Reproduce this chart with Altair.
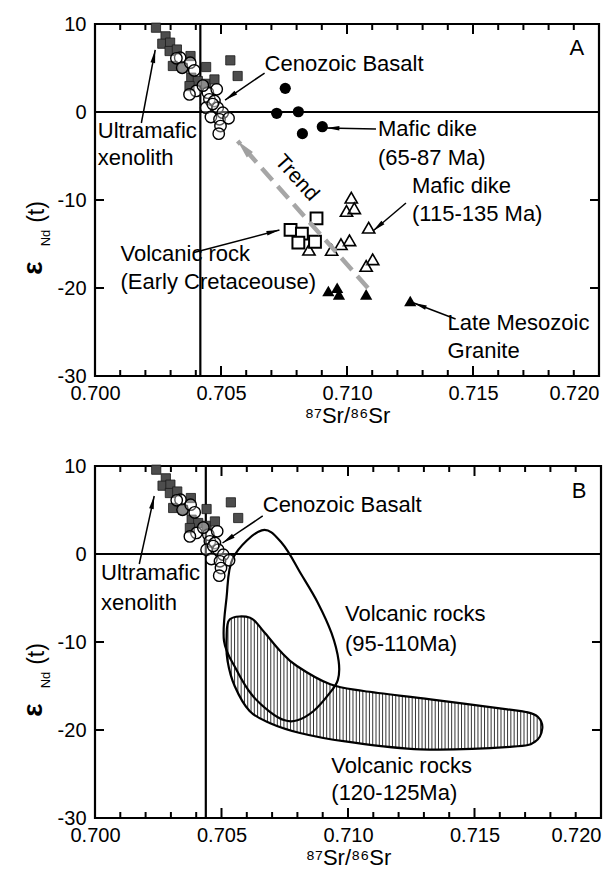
import altair as alt
import pandas as pd
import numpy as np

FONT = "Liberation Sans"

# ---------------- data ----------------
# Ultramafic xenolith (grey squares)
ux_sr = [0.70242, 0.70280, 0.70267, 0.70298, 0.70296, 0.70325, 0.70379, 0.70309,
         0.70348, 0.70441, 0.70382, 0.70408, 0.70441, 0.70474, 0.70375, 0.70537, 0.70566]
ux_nd = [9.58, 8.60, 7.76, 7.88, 6.93, 7.10, 6.36, 5.23,
         5.03, 5.11, 3.90, 3.52, 3.20, 3.70, 2.95, 5.87, 4.09]
# Cenozoic basalt (open circles)
cb_sr = [0.70338, 0.70323, 0.70346, 0.70378, 0.70394, 0.70401, 0.70375, 0.70448,
         0.70483, 0.70454, 0.70474, 0.70441, 0.70487, 0.70507, 0.70460, 0.70494,
         0.70530, 0.70498, 0.70491, 0.70428, 0.70467]
cb_nd = [6.17, 6.10, 5.03, 5.60, 4.73, 2.39, 2.00, 2.20,
         2.58, 1.44, 1.25, 0.49, 0.49, -0.08, -0.57, -0.83,
         -0.72, -1.60, -2.46, 3.00, 0.90]
# Mafic dike 65-87 Ma (black circles)
md1_sr = [0.70755, 0.70721, 0.70807, 0.70823, 0.70902]
md1_nd = [2.69, -0.15, 0.03, -2.46, -1.67]
# Mafic dike 115-135 Ma (open triangles)
md2_sr = [0.71017, 0.70998, 0.71029, 0.71086, 0.71010, 0.70976, 0.70939, 0.70849, 0.71102, 0.71076]
md2_nd = [-9.74, -11.25, -10.94, -13.15, -14.58, -15.03, -15.68, -15.65, -16.74, -17.50]
# Volcanic rock, Early Cretaceous (open squares)
vr_sr = [0.70879, 0.70776, 0.70821, 0.70807, 0.70873]
vr_nd = [-12.08, -13.40, -13.83, -14.85, -14.74]
# Late Mesozoic granite (black triangles)
gr_sr = [0.70926, 0.70961, 0.70968, 0.71076, 0.71251]
gr_nd = [-20.34, -19.97, -20.72, -20.72, -21.48]

# Panel B fields: volcanic rocks 95-110 Ma (open outline)
v1_sr = [0.70659, 0.70740, 0.70815, 0.70880, 0.70935, 0.70963, 0.70960, 0.70925,
         0.70864, 0.70800, 0.70750, 0.70690, 0.70620, 0.70560, 0.70510, 0.70520, 0.70546]
v1_nd = [2.69, 1.20, -2.30, -5.50, -9.00, -12.16, -14.30, -15.90,
         -17.84, -18.90, -18.90, -17.90, -16.00, -13.20, -9.89, -4.97, -0.42]
# volcanic rocks 120-125 Ma (hatched outline)
v2_sr = [0.70533, 0.70613, 0.70665, 0.70732, 0.70798, 0.70930, 0.71062, 0.71326,
         0.71630, 0.71703, 0.71750, 0.71768, 0.71740, 0.71650, 0.71286, 0.70989, 0.70810,
         0.70690, 0.70611, 0.70552, 0.70524, 0.70520]
v2_nd = [-7.42, -7.24, -8.75, -11.02, -12.73, -14.81, -15.57, -16.51,
         -17.65, -17.95, -18.50, -19.80, -21.30, -21.90, -22.20, -21.30, -20.34,
         -19.20, -17.84, -15.00, -12.16, -9.60]

x_major = [0.700, 0.705, 0.710, 0.715, 0.720]
x_minor = [round(0.700 + 0.001 * i, 3) for i in range(1, 20) if i % 5]
y_major = [-30, -20, -10, 0, 10]

XDOM = [0.700, 0.720]
YDOM = [-30, 10]


def pts(sr, nd):
    return pd.DataFrame({"x": sr, "y": nd})


def xenc():
    ax = alt.Axis(values=x_major, format=".3f", ticks=False, domain=False, grid=False,
                  labelFlush=False, labelOverlap=False,
                  labelAlign={"expr": "datum.value > 0.7195 ? 'right' : 'center'"},
                  labelFontSize=20, labelFont=FONT, labelPadding=7, labelColor="black",
                  title="⁸⁷Sr/⁸⁶Sr", titleFont=FONT, titleFontSize=22,
                  titleFontWeight="normal", titlePadding=2, titleColor="black")
    return alt.X("x:Q", scale=alt.Scale(domain=XDOM, nice=False, zero=False), axis=ax)


def yenc():
    ax = alt.Axis(values=y_major, labelExpr="datum.value + ''", ticks=False, domain=False,
                  grid=False, labelFlush=False, labelOverlap=False,
                  labelFontSize=20, labelFont=FONT, labelPadding=9,
                  labelColor="black", title=None)
    return alt.Y("y:Q", scale=alt.Scale(domain=YDOM, nice=False, zero=False), axis=ax)


def tick_frame(W, H):
    """Inward ticks on all four sides, as segments in data units."""
    sx = W / (XDOM[1] - XDOM[0])
    sy = H / (YDOM[1] - YDOM[0])
    seg = []
    for vals, ln in ((x_major[1:-1], 10), (x_minor, 6)):
        for v in vals:
            seg.append((v, YDOM[0], v, YDOM[0] + ln / sy))
            seg.append((v, YDOM[1], v, YDOM[1] - ln / sy))
    for v in (-20, -10):
        seg.append((XDOM[0], v, XDOM[0] + 9 / sx, v))
        seg.append((XDOM[1], v, XDOM[1] - 9 / sx, v))
    df = pd.DataFrame(seg, columns=["x", "y", "x2", "y2"])
    return [alt.Chart(df).mark_rule(color="black", strokeWidth=2).encode(
        x="x:Q", y="y:Q", x2="x2:Q", y2="y2:Q")]


def ref_lines(xv):
    return [
        alt.Chart(pd.DataFrame({"y": [0]})).mark_rule(color="black", strokeWidth=2.2).encode(y="y:Q"),
        alt.Chart(pd.DataFrame({"x": [xv]})).mark_rule(color="black", strokeWidth=2.2).encode(x="x:Q"),
    ]


def common_points():
    sq = alt.Chart(pts(ux_sr, ux_nd)).mark_point(shape="square", filled=True, size=85,
                                                 fill="#4d4d4d", stroke="#1a1a1a",
                                                 strokeWidth=0.8, opacity=1).encode(x="x:Q", y="y:Q")
    ci = alt.Chart(pts(cb_sr, cb_nd)).mark_point(shape="circle", size=130, fill="white",
                                                 fillOpacity=0.35, stroke="black",
                                                 strokeWidth=1.4, opacity=1).encode(x="x:Q", y="y:Q")
    return [sq, ci]


ARROW = "M0,0L0.36,2L-0.36,2Z"


def with_angle(df, W, H):
    sx = W / (XDOM[1] - XDOM[0])
    sy = H / (YDOM[1] - YDOM[0])
    ang = []
    for _, r in df.iterrows():
        dx = (r.x2 - r.x) * sx
        dy = -(r.y2 - r.y) * sy
        ang.append((np.degrees(np.arctan2(dx, -dy)) + 360) % 360)
    d = df.copy()
    d["ang"] = ang
    return d


def arrows(df, W, H, color="black", size=170):
    d = with_angle(df, W, H)
    line = alt.Chart(d).mark_rule(color=color, strokeWidth=1.5).encode(
        x="x:Q", y="y:Q", x2="x2:Q", y2="y2:Q")
    head = alt.Chart(d).mark_point(shape=ARROW, filled=True, size=size, fill=color,
                                   strokeWidth=0, opacity=1).encode(
        x=alt.X("x2:Q"), y=alt.Y("y2:Q"), angle=alt.Angle("ang:Q", scale=None))
    return [line, head]


def texts(df, size=22, align="left"):
    return alt.Chart(df).mark_text(font=FONT, fontSize=size, align=align, baseline="middle",
                                   color="black").encode(x="x:Q", y="y:Q", text="t:N")


def ytitle():
    return [
        alt.Chart(pd.DataFrame({"t": ["ε"]})).mark_text(font=FONT, fontSize=28, fontWeight="bold",
                                                        angle=270, align="center",
                                                        baseline="middle").encode(
            x=alt.value(-61.5), y=alt.value(244), text="t:N"),
        alt.Chart(pd.DataFrame({"t": ["Nd"]})).mark_text(font=FONT, fontSize=13, angle=270,
                                                         align="center", baseline="middle").encode(
            x=alt.value(-49.5), y=alt.value(214), text="t:N"),
        alt.Chart(pd.DataFrame({"t": ["(t)"]})).mark_text(font=FONT, fontSize=23, angle=270,
                                                          align="center", baseline="middle").encode(
            x=alt.value(-58.5), y=alt.value(188), text="t:N"),
    ]


# ---------------- panel A ----------------
WA, HA = 504, 352

base_a = alt.Chart(pts([0.70], [0])).mark_point(opacity=0).encode(x=xenc(), y=yenc())

md1 = alt.Chart(pts(md1_sr, md1_nd)).mark_point(shape="circle", filled=True, size=125,
                                                color="black", opacity=1).encode(x="x:Q", y="y:Q")
md2 = alt.Chart(pts(md2_sr, md2_nd)).mark_point(shape="triangle-up", size=150, fill="white",
                                                fillOpacity=0.3, stroke="black", strokeWidth=1.6,
                                                opacity=1).encode(x="x:Q", y="y:Q")
vr = alt.Chart(pts(vr_sr, vr_nd)).mark_point(shape="square", size=140, fill="white",
                                             stroke="black", strokeWidth=2,
                                             opacity=1).encode(x="x:Q", y="y:Q")
gr = alt.Chart(pts(gr_sr, gr_nd)).mark_point(shape="triangle-up", filled=True, size=150,
                                             color="black", opacity=1).encode(x="x:Q", y="y:Q")

trend = pd.DataFrame({"x": [0.71083], "y": [-20.0], "x2": [0.70566], "y2": [-3.3]})
trend_line = alt.Chart(trend).mark_rule(color="#a6a6a6", strokeWidth=4.5,
                                        strokeDash=[16, 8]).encode(x="x:Q", y="y:Q", x2="x2:Q", y2="y2:Q")
trend_head = alt.Chart(with_angle(trend, WA, HA)).mark_point(
    shape="M0,0L0.45,2L-0.45,2Z", filled=True, size=340, fill="#a0a0a0", strokeWidth=0,
    opacity=1).encode(x="x2:Q", y="y2:Q", angle=alt.Angle("ang:Q", scale=None))

arr_a = pd.DataFrame({
    "x":  [0.70673, 0.70184, 0.71115, 0.71234, 0.70389, 0.71431],
    "y":  [4.43, -1.25, -1.93, -10.34, -16.0, -23.52],
    "x2": [0.70516, 0.70239, 0.70918, 0.71103, 0.70732, 0.71265],
    "y2": [1.36, 7.05, -1.82, -13.52, -13.41, -21.70],
})

txt_a = pd.DataFrame({
    "x": [0.70673, 0.70011, 0.70011, 0.71123, 0.71123, 0.71258, 0.71258,
          0.70101, 0.70101, 0.71399, 0.71399],
    "y": [5.45, -2.16, -5.20, -1.93, -5.23, -8.41, -11.59, -16.14, -19.32, -23.98, -27.16],
    "t": ["Cenozoic Basalt", "Ultramafic", "xenolith", "Mafic dike", "(65-87 Ma)",
          "Mafic dike", "(115-135 Ma)", "Volcanic rock", "(Early Cretaceouse)",
          "Late Mesozoic", "Granite"],
})
lab_a = pd.DataFrame({"x": [0.71912], "y": [7.27], "t": ["A"]})
trend_txt = alt.Chart(pd.DataFrame({"x": [0.70800], "y": [-7.5], "t": ["Trend"]})).mark_text(
    font=FONT, fontSize=21, angle=48, align="center", baseline="middle").encode(
    x="x:Q", y="y:Q", text="t:N")

layers_a = ([base_a] + ref_lines(0.70418) + common_points() +
            [md1, md2, vr, gr, trend_line, trend_head] + arrows(arr_a, WA, HA) +
            [texts(txt_a), texts(lab_a, align="center"), trend_txt] + ytitle() +
            tick_frame(WA, HA))
panel_a = alt.layer(*layers_a).properties(width=WA, height=HA)

# ---------------- panel B ----------------
WB, HB = 506, 352


def catmull(xs, ys, n=12):
    P = np.column_stack([xs, ys])
    m = len(P)
    out = []
    for i in range(m):
        p0, p1, p2, p3 = P[(i - 1) % m], P[i], P[(i + 1) % m], P[(i + 2) % m]
        c1 = p1 + (p2 - p0) / 6.0
        c2 = p2 - (p3 - p1) / 6.0
        for t in np.linspace(0, 1, n, endpoint=False):
            b = ((1 - t) ** 3) * p1 + 3 * ((1 - t) ** 2) * t * c1 + 3 * (1 - t) * t * t * c2 + t ** 3 * p2
            out.append(b)
    out = np.array(out)
    return out[:, 0], out[:, 1]


def hatch_segments(xs, ys, step=0.00013):
    cx, cy = catmull(xs, ys)
    n = len(cx)
    rows = []
    xv = min(cx) + step / 2
    while xv < max(cx):
        cr = []
        for i in range(n):
            x1, y1, x2, y2 = cx[i], cy[i], cx[(i + 1) % n], cy[(i + 1) % n]
            if (x1 <= xv < x2) or (x2 <= xv < x1):
                cr.append(y1 + (xv - x1) / (x2 - x1) * (y2 - y1))
        cr.sort()
        for k in range(0, len(cr) - 1, 2):
            rows.append({"x": xv, "y": cr[k], "y2": cr[k + 1]})
        xv += step
    return pd.DataFrame(rows)


base_b = alt.Chart(pts([0.70], [0])).mark_point(opacity=0).encode(x=xenc(), y=yenc())

hatch = alt.Chart(hatch_segments(v2_sr, v2_nd)).mark_rule(color="black", strokeWidth=0.8).encode(
    x="x:Q", y="y:Q", y2="y2:Q")
d_v2 = pd.DataFrame({"x": v2_sr, "y": v2_nd, "o": range(len(v2_sr))})
out_v2 = alt.Chart(d_v2).mark_line(color="black", strokeWidth=2.2, interpolate="cardinal-closed").encode(
    x="x:Q", y="y:Q", order="o:Q")
d_v1 = pd.DataFrame({"x": v1_sr, "y": v1_nd, "o": range(len(v1_sr))})
out_v1 = alt.Chart(d_v1).mark_line(color="black", strokeWidth=2.2, interpolate="cardinal-closed").encode(
    x="x:Q", y="y:Q", order="o:Q")

arr_b = pd.DataFrame({
    "x": [0.70663, 0.70175], "y": [4.32, -1.14],
    "x2": [0.70504, 0.70234], "y2": [1.25, 6.59],
})
txt_b = pd.DataFrame({
    "x": [0.70663, 0.70024, 0.70024, 0.70988, 0.70988, 0.70934, 0.70934],
    "y": [5.57, -2.16, -5.57, -6.82, -10.23, -24.07, -27.16],
    "t": ["Cenozoic Basalt", "Ultramafic", "xenolith", "Volcanic rocks", "(95-110Ma)",
          "Volcanic rocks", "(120-125Ma)"],
})
lab_b = pd.DataFrame({"x": [0.71913], "y": [7.16], "t": ["B"]})

layers_b = ([base_b, hatch, out_v2, out_v1] + ref_lines(0.70438) + common_points() +
            arrows(arr_b, WB, HB) + [texts(txt_b), texts(lab_b, align="center")] + ytitle() +
            tick_frame(WB, HB))
panel_b = alt.layer(*layers_b).properties(width=WB, height=HB)

chart = alt.vconcat(panel_a, panel_b, spacing=26).properties(
    padding={"left": 10, "top": 4, "right": 0, "bottom": 0}
).configure_view(stroke="black", strokeWidth=2.2)

chart.save("out.html", embed_options={"renderer": "svg", "actions": False})
